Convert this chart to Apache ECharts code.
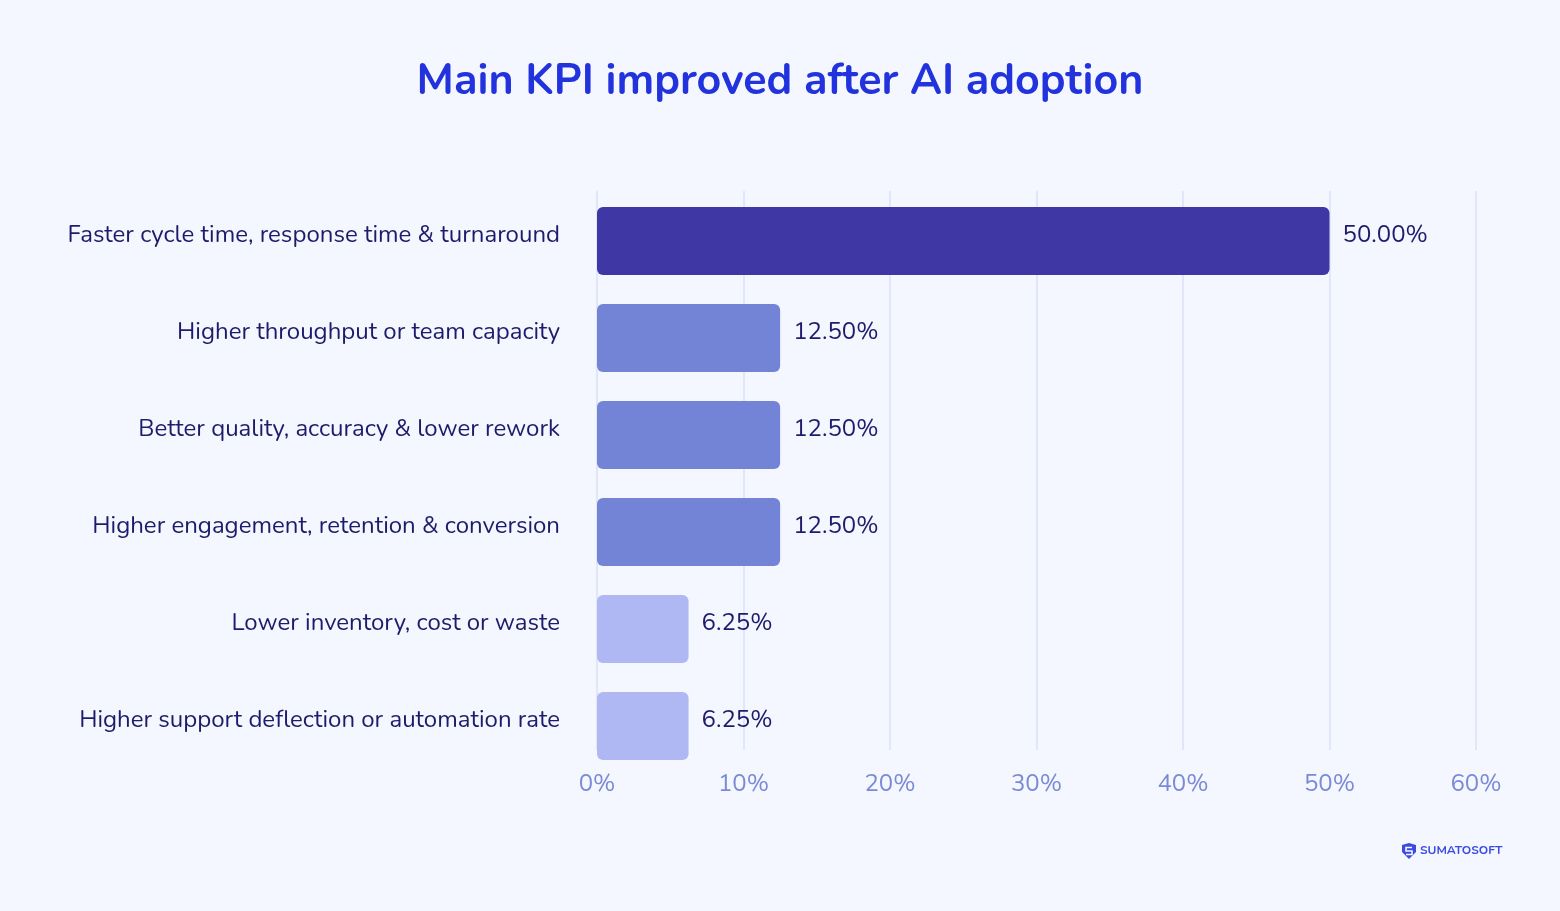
<!DOCTYPE html>
<html>
<head>
<meta charset="utf-8">
<title>Main KPI improved after AI adoption</title>
<script src="https://cdn.jsdelivr.net/npm/echarts@6/dist/echarts.min.js"></script>
<style>
html, body { margin: 0; padding: 0; background: #f4f7ff; }
#chart { width: 1560px; height: 911px; }
</style>
</head>
<body>
<div id="chart"></div>
<script>
// data
var categories = [
  'Faster cycle time, response time & turnaround',
  'Higher throughput or team capacity',
  'Better quality, accuracy & lower rework',
  'Higher engagement, retention & conversion',
  'Lower inventory, cost or waste',
  'Higher support deflection or automation rate'
]
var values = [50, 12.5, 12.5, 12.5, 6.25, 6.25]
var barColors = ['#3f37a3', '#7383d6', '#7383d6', '#7383d6', '#b0b8f4', '#b0b8f4']
var tickLabels = ['0%', '10%', '20%', '30%', '40%', '50%', '60%']

var font = 'Nunito, "Noto Sans", Lato, sans-serif'
var chart = echarts.init(document.getElementById('chart'))

var option = {
  backgroundColor: '#f4f7ff',
  title: {
    text: 'Main KPI improved after AI adoption',
    left: 'center',
    top: 57,
    textStyle: { color: '#2233dd', fontSize: 43, fontWeight: 'bold', fontFamily: font }
  },
  grid: [
    // bars
    { left: 597, right: 84, top: 192.5, height: 582 },
    // gridlines + tick labels
    { left: 597, right: 84, top: 191, height: 559 }
  ],
  xAxis: [
    {
      gridIndex: 0, type: 'value', min: 0, max: 60, interval: 10,
      axisLine: { show: false }, axisTick: { show: false },
      axisLabel: { show: false }, splitLine: { show: false }
    },
    {
      gridIndex: 1, type: 'value', min: 0, max: 60, interval: 10,
      axisLine: { show: false }, axisTick: { show: false },
      splitLine: { show: true, lineStyle: { color: '#e2e6fa', width: 2 } },
      axisLabel: {
        margin: 23,
        color: '#7b8ad6', fontSize: 24, fontFamily: font,
        formatter: function (v) { return tickLabels[v / 10] }
      }
    }
  ],
  yAxis: [
    {
      gridIndex: 0, type: 'category', inverse: true, data: categories,
      axisLine: { show: false }, axisTick: { show: false },
      axisLabel: {
        margin: 37, color: '#1e1b6b', fontSize: 24, fontFamily: font,
        verticalAlign: 'bottom', lineHeight: 10
      }
    },
    {
      gridIndex: 1, type: 'category', data: [''], show: false
    }
  ],
  series: [{
    type: 'bar',
    xAxisIndex: 0,
    yAxisIndex: 0,
    barWidth: 68,
    data: values.map(function (v, i) {
      return { value: v, itemStyle: { color: barColors[i] } }
    }),
    itemStyle: { borderRadius: 6 },
    label: {
      show: true,
      position: 'right',
      distance: 13,
      offset: [0, -5],
      color: '#1e1b6b',
      fontSize: 24,
      fontFamily: font,
      formatter: function (p) { return p.value.toFixed(2) + '%' }
    },
    silent: true
  }],
  graphic: [
    {
      type: 'polygon',
      shape: { points: [[1402, 845], [1409, 843], [1416, 845], [1416, 852], [1409, 859], [1402, 852]] },
      style: { fill: '#3b4be0' }
    },
    {
      type: 'polyline',
      shape: { points: [[1412, 847.5], [1406, 847.5], [1406, 851], [1412, 851], [1412, 854.5], [1406, 854.5]] },
      style: { stroke: '#f4f7ff', lineWidth: 1.6, fill: null }
    },
    {
      type: 'text',
      left: 1420, top: 845,
      style: { text: 'SUMATOSOFT', fill: '#3b4be0', fontSize: 12, fontWeight: 'bold', fontFamily: font }
    }
  ]
}
chart.setOption(option)
</script>
</body>
</html>
